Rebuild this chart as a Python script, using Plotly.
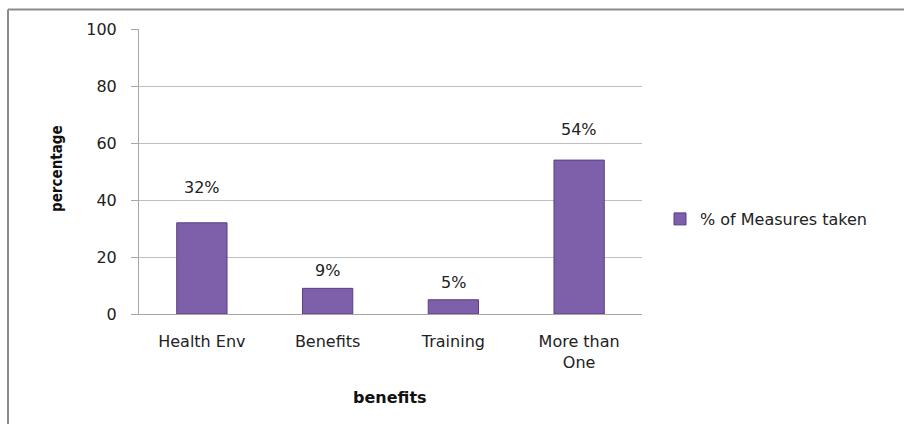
import plotly.graph_objects as go

categories = ["Health Env", "Benefits", "Training", "More than<br>One"]
values = [32, 9, 5, 54]
labels = ["32%", "9%", "5%", "54%"]
series_name = "% of Measures taken"
y_ticks = [0, 20, 40, 60, 80, 100]
label_shift = [24, 6, 6, 19]

W, H = 904, 424
L, R, T, B = 139, 262, 29, 110
pw, ph = W - L - R, H - T - B

def px_x(x):
    return (x - L) / pw

def px_y(y):
    return (H - B - y) / ph

bar_color = "#7E5FAA"
fig = go.Figure()
fig.add_trace(go.Bar(
    x=categories, y=values, name=series_name,
    marker=dict(color=bar_color, line=dict(color="#5A3F82", width=1)),
    showlegend=True,
))

for c, v, t, s in zip(categories, values, labels, label_shift):
    fig.add_annotation(x=c, y=v, text=t, showarrow=False, yanchor="bottom",
                       yshift=s, font=dict(family="DejaVu Sans", size=16, color="#222"))

fig.add_annotation(xref="paper", yref="paper", x=px_x(390), y=px_y(397),
                   xanchor="center", yanchor="middle",
                   text="<b>benefits</b>", showarrow=False,
                   font=dict(family="DejaVu Sans", size=16, color="#111"))
fig.add_annotation(xref="paper", yref="paper", x=px_x(57), y=px_y(169),
                   xanchor="center", yanchor="middle",
                   text="<b>percentage</b>", showarrow=False, textangle=-90,
                   font=dict(family="Liberation Sans Narrow, DejaVu Sans Condensed", size=15, color="#111"))

fig.add_shape(type="line", xref="paper", yref="paper",
              x0=px_x(8), x1=px_x(904), y0=px_y(9.5), y1=px_y(9.5),
              line=dict(color="#8C8C8C", width=2))
fig.add_shape(type="line", xref="paper", yref="paper",
              x0=px_x(8), x1=px_x(8), y0=px_y(9.5), y1=px_y(424),
              line=dict(color="#8C8C8C", width=2))

fig.update_layout(
    width=W, height=H,
    margin=dict(l=L, r=R, t=T, b=B, autoexpand=False),
    plot_bgcolor="white", paper_bgcolor="white",
    bargap=0.6,
    font=dict(family="DejaVu Sans", size=16, color="#222"),
    legend=dict(x=px_x(660), y=px_y(219), xanchor="left", yanchor="middle",
                font=dict(family="DejaVu Sans", size=16, color="#222"),
                bgcolor="rgba(0,0,0,0)"),
    xaxis=dict(showline=True, linecolor="#A6A6A6", linewidth=1,
               ticks="", ticklabelstandoff=13, showgrid=False,
               tickfont=dict(family="DejaVu Sans", size=16, color="#222")),
    yaxis=dict(range=[0, 100], tickvals=y_ticks, showgrid=True,
               gridcolor="#BFBFBF", gridwidth=1, zeroline=False,
               showline=True, linecolor="#A6A6A6", linewidth=1,
               ticks="outside", ticklen=7, tickcolor="#A6A6A6",
               ticklabelstandoff=11,
               tickfont=dict(family="DejaVu Sans", size=16, color="#222")),
)

fig.write_html("out.html")
